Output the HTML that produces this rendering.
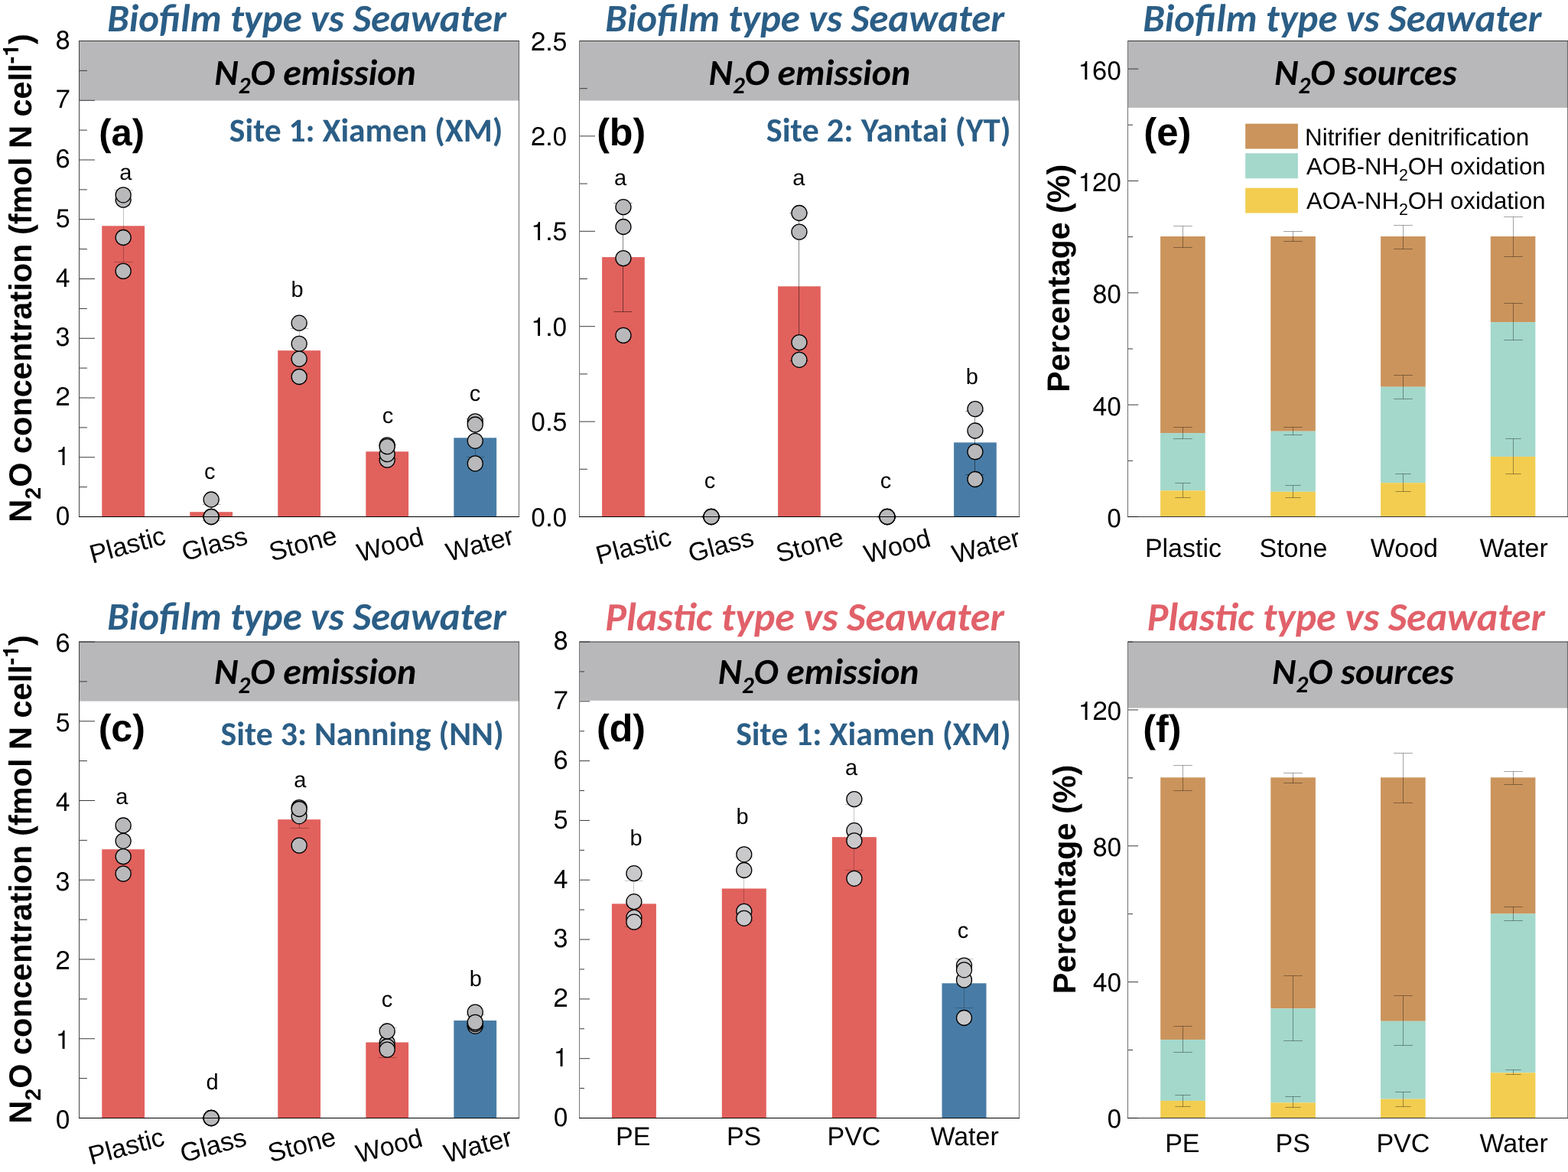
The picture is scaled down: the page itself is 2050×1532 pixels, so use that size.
<!DOCTYPE html>
<html><head><meta charset="utf-8"><title>N2O emission figure</title><style>html,body{margin:0;padding:0;background:#fff;overflow:hidden}svg{display:block}</style></head><body><svg width="2050" height="1532" viewBox="0 0 2050 1532" style="text-rendering:geometricPrecision">
<rect width="100%" height="100%" fill="#fff"/>
<rect x="103.50" y="53.50" width="575.00" height="78.00" fill="#B8B8BA"/>
<rect x="757.50" y="53.50" width="575.00" height="78.00" fill="#B8B8BA"/>
<rect x="103.50" y="839.00" width="575.00" height="77.60" fill="#B8B8BA"/>
<rect x="757.50" y="839.00" width="575.00" height="76.80" fill="#B8B8BA"/>
<rect x="1474.50" y="53.50" width="575.00" height="87.30" fill="#B8B8BA"/>
<rect x="1474.50" y="839.00" width="575.00" height="86.50" fill="#B8B8BA"/>
<rect x="133.25" y="295.30" width="55.80" height="380.20" fill="#E1615D"/>
<path d="M161.50 248.50V342.50M149.50 248.50H173.50M149.50 342.50H173.50" stroke="#000" stroke-opacity="0.25" stroke-width="1" fill="none"/>
<circle cx="161.15" cy="261.10" r="10.0" fill="#B9B9BB" stroke="#000" stroke-width="1.3"/>
<circle cx="161.15" cy="254.80" r="10.0" fill="#B9B9BB" stroke="#000" stroke-width="1.3"/>
<circle cx="161.15" cy="310.50" r="10.0" fill="#B9B9BB" stroke="#000" stroke-width="1.3"/>
<circle cx="161.15" cy="354.40" r="10.0" fill="#B9B9BB" stroke="#000" stroke-width="1.3"/>
<rect x="248.25" y="669.20" width="55.80" height="6.30" fill="#E1615D"/>
<path d="M276.50 659.50V680.50M264.50 659.50H288.50M264.50 680.50H288.50" stroke="#000" stroke-opacity="0.25" stroke-width="1" fill="none"/>
<circle cx="276.15" cy="653.00" r="10.0" fill="#B9B9BB" stroke="#000" stroke-width="1.3"/>
<circle cx="276.15" cy="675.50" r="10.0" fill="#B9B9BB" stroke="#000" stroke-width="1.3"/>
<circle cx="276.15" cy="675.50" r="10.0" fill="#B9B9BB" stroke="#000" stroke-width="1.3"/>
<circle cx="276.15" cy="675.50" r="10.0" fill="#B9B9BB" stroke="#000" stroke-width="1.3"/>
<rect x="363.25" y="458.20" width="55.80" height="217.30" fill="#E1615D"/>
<path d="M391.50 429.50V488.50M379.50 429.50H403.50M379.50 488.50H403.50" stroke="#000" stroke-opacity="0.25" stroke-width="1" fill="none"/>
<circle cx="391.15" cy="422.20" r="10.0" fill="#B9B9BB" stroke="#000" stroke-width="1.3"/>
<circle cx="391.15" cy="449.30" r="10.0" fill="#B9B9BB" stroke="#000" stroke-width="1.3"/>
<circle cx="391.15" cy="469.20" r="10.0" fill="#B9B9BB" stroke="#000" stroke-width="1.3"/>
<circle cx="391.15" cy="492.50" r="10.0" fill="#B9B9BB" stroke="#000" stroke-width="1.3"/>
<rect x="478.30" y="590.30" width="55.80" height="85.20" fill="#E1615D"/>
<path d="M506.50 581.50V599.50M494.50 581.50H518.50M494.50 599.50H518.50" stroke="#000" stroke-opacity="0.25" stroke-width="1" fill="none"/>
<circle cx="506.20" cy="581.90" r="10.0" fill="#B9B9BB" stroke="#000" stroke-width="1.3"/>
<circle cx="506.20" cy="601.20" r="10.0" fill="#B9B9BB" stroke="#000" stroke-width="1.3"/>
<circle cx="506.20" cy="593.60" r="10.0" fill="#B9B9BB" stroke="#000" stroke-width="1.3"/>
<circle cx="506.20" cy="583.70" r="10.0" fill="#B9B9BB" stroke="#000" stroke-width="1.3"/>
<rect x="593.35" y="572.30" width="55.80" height="103.20" fill="#487CA6"/>
<path d="M621.50 547.50V597.50M609.50 547.50H633.50M609.50 597.50H633.50" stroke="#000" stroke-opacity="0.25" stroke-width="1" fill="none"/>
<circle cx="621.25" cy="550.90" r="10.0" fill="#B9B9BB" stroke="#000" stroke-width="1.3"/>
<circle cx="621.25" cy="555.00" r="10.0" fill="#B9B9BB" stroke="#000" stroke-width="1.3"/>
<circle cx="621.25" cy="576.30" r="10.0" fill="#B9B9BB" stroke="#000" stroke-width="1.3"/>
<circle cx="621.25" cy="605.90" r="10.0" fill="#B9B9BB" stroke="#000" stroke-width="1.3"/>
<rect x="787.10" y="336.10" width="55.70" height="339.40" fill="#E1615D"/>
<path d="M814.50 265.50V407.50M802.50 265.50H826.50M802.50 407.50H826.50" stroke="#000" stroke-opacity="0.47" stroke-width="1" fill="none"/>
<circle cx="814.95" cy="270.70" r="10.0" fill="#B9B9BB" stroke="#000" stroke-width="1.3"/>
<circle cx="814.95" cy="296.50" r="10.0" fill="#B9B9BB" stroke="#000" stroke-width="1.3"/>
<circle cx="814.95" cy="337.60" r="10.0" fill="#B9B9BB" stroke="#000" stroke-width="1.3"/>
<circle cx="814.95" cy="438.40" r="10.0" fill="#B9B9BB" stroke="#000" stroke-width="1.3"/>
<path d="M929.50 674.50V676.50M917.50 674.50H941.50M917.50 676.50H941.50" stroke="#000" stroke-opacity="0.47" stroke-width="1" fill="none"/>
<circle cx="929.95" cy="675.50" r="10.0" fill="#B9B9BB" stroke="#000" stroke-width="1.3"/>
<circle cx="929.95" cy="675.50" r="10.0" fill="#B9B9BB" stroke="#000" stroke-width="1.3"/>
<circle cx="929.95" cy="675.50" r="10.0" fill="#B9B9BB" stroke="#000" stroke-width="1.3"/>
<circle cx="929.95" cy="675.50" r="10.0" fill="#B9B9BB" stroke="#000" stroke-width="1.3"/>
<rect x="1017.10" y="374.30" width="55.70" height="301.20" fill="#E1615D"/>
<path d="M1044.50 278.50V471.50M1032.50 278.50H1056.50M1032.50 471.50H1056.50" stroke="#000" stroke-opacity="0.47" stroke-width="1" fill="none"/>
<circle cx="1044.95" cy="278.50" r="10.0" fill="#B9B9BB" stroke="#000" stroke-width="1.3"/>
<circle cx="1044.95" cy="303.10" r="10.0" fill="#B9B9BB" stroke="#000" stroke-width="1.3"/>
<circle cx="1044.95" cy="447.60" r="10.0" fill="#B9B9BB" stroke="#000" stroke-width="1.3"/>
<circle cx="1044.95" cy="470.30" r="10.0" fill="#B9B9BB" stroke="#000" stroke-width="1.3"/>
<path d="M1159.50 674.50V676.50M1147.50 674.50H1171.50M1147.50 676.50H1171.50" stroke="#000" stroke-opacity="0.47" stroke-width="1" fill="none"/>
<circle cx="1159.95" cy="675.50" r="10.0" fill="#B9B9BB" stroke="#000" stroke-width="1.3"/>
<circle cx="1159.95" cy="675.50" r="10.0" fill="#B9B9BB" stroke="#000" stroke-width="1.3"/>
<circle cx="1159.95" cy="675.50" r="10.0" fill="#B9B9BB" stroke="#000" stroke-width="1.3"/>
<circle cx="1159.95" cy="675.50" r="10.0" fill="#B9B9BB" stroke="#000" stroke-width="1.3"/>
<rect x="1247.10" y="578.40" width="55.70" height="97.10" fill="#487CA6"/>
<path d="M1274.50 537.50V620.50M1262.50 537.50H1286.50M1262.50 620.50H1286.50" stroke="#000" stroke-opacity="0.47" stroke-width="1" fill="none"/>
<circle cx="1274.95" cy="534.60" r="10.0" fill="#B9B9BB" stroke="#000" stroke-width="1.3"/>
<circle cx="1274.95" cy="563.00" r="10.0" fill="#B9B9BB" stroke="#000" stroke-width="1.3"/>
<circle cx="1274.95" cy="590.60" r="10.0" fill="#B9B9BB" stroke="#000" stroke-width="1.3"/>
<circle cx="1274.95" cy="626.50" r="10.0" fill="#B9B9BB" stroke="#000" stroke-width="1.3"/>
<rect x="133.25" y="1110.20" width="55.80" height="351.30" fill="#E1615D"/>
<path d="M161.50 1083.50V1137.50M149.50 1083.50H173.50M149.50 1137.50H173.50" stroke="#000" stroke-opacity="0.27" stroke-width="1" fill="none"/>
<circle cx="161.15" cy="1079.00" r="10.0" fill="#B9B9BB" stroke="#000" stroke-width="1.3"/>
<circle cx="161.15" cy="1099.30" r="10.0" fill="#B9B9BB" stroke="#000" stroke-width="1.3"/>
<circle cx="161.15" cy="1119.60" r="10.0" fill="#B9B9BB" stroke="#000" stroke-width="1.3"/>
<circle cx="161.15" cy="1142.10" r="10.0" fill="#B9B9BB" stroke="#000" stroke-width="1.3"/>
<path d="M276.50 1460.50V1462.50M264.50 1460.50H288.50M264.50 1462.50H288.50" stroke="#000" stroke-opacity="0.27" stroke-width="1" fill="none"/>
<circle cx="276.15" cy="1461.50" r="10.0" fill="#B9B9BB" stroke="#000" stroke-width="1.3"/>
<circle cx="276.15" cy="1461.50" r="10.0" fill="#B9B9BB" stroke="#000" stroke-width="1.3"/>
<circle cx="276.15" cy="1461.50" r="10.0" fill="#B9B9BB" stroke="#000" stroke-width="1.3"/>
<circle cx="276.15" cy="1461.50" r="10.0" fill="#B9B9BB" stroke="#000" stroke-width="1.3"/>
<rect x="363.25" y="1071.20" width="55.80" height="390.30" fill="#E1615D"/>
<path d="M391.50 1061.50V1082.50M379.50 1061.50H403.50M379.50 1082.50H403.50" stroke="#000" stroke-opacity="0.27" stroke-width="1" fill="none"/>
<circle cx="391.15" cy="1066.80" r="10.0" fill="#B9B9BB" stroke="#000" stroke-width="1.3"/>
<circle cx="391.15" cy="1055.60" r="10.0" fill="#B9B9BB" stroke="#000" stroke-width="1.3"/>
<circle cx="391.15" cy="1057.50" r="10.0" fill="#B9B9BB" stroke="#000" stroke-width="1.3"/>
<circle cx="391.15" cy="1105.10" r="10.0" fill="#B9B9BB" stroke="#000" stroke-width="1.3"/>
<rect x="478.30" y="1362.50" width="55.80" height="99.00" fill="#E1615D"/>
<path d="M506.50 1343.50V1382.50M494.50 1343.50H518.50M494.50 1382.50H518.50" stroke="#000" stroke-opacity="0.27" stroke-width="1" fill="none"/>
<circle cx="506.20" cy="1363.00" r="10.0" fill="#B9B9BB" stroke="#000" stroke-width="1.3"/>
<circle cx="506.20" cy="1368.00" r="10.0" fill="#B9B9BB" stroke="#000" stroke-width="1.3"/>
<circle cx="506.20" cy="1348.00" r="10.0" fill="#B9B9BB" stroke="#000" stroke-width="1.3"/>
<circle cx="506.20" cy="1372.10" r="10.0" fill="#B9B9BB" stroke="#000" stroke-width="1.3"/>
<rect x="593.35" y="1334.00" width="55.80" height="127.50" fill="#487CA6"/>
<path d="M621.50 1326.50V1341.50M609.50 1326.50H633.50M609.50 1341.50H633.50" stroke="#000" stroke-opacity="0.27" stroke-width="1" fill="none"/>
<circle cx="621.25" cy="1341.30" r="10.0" fill="#B9B9BB" stroke="#000" stroke-width="1.3"/>
<circle cx="621.25" cy="1338.50" r="10.0" fill="#B9B9BB" stroke="#000" stroke-width="1.3"/>
<circle cx="621.25" cy="1323.10" r="10.0" fill="#B9B9BB" stroke="#000" stroke-width="1.3"/>
<circle cx="621.25" cy="1336.40" r="10.0" fill="#B9B9BB" stroke="#000" stroke-width="1.3"/>
<rect x="799.90" y="1181.40" width="58.00" height="280.10" fill="#E1615D"/>
<path d="M828.50 1151.50V1211.50M816.50 1151.50H840.50M816.50 1211.50H840.50" stroke="#000" stroke-opacity="0.22" stroke-width="1" fill="none"/>
<circle cx="828.90" cy="1141.70" r="10.0" fill="#C9C9CB" stroke="#000" stroke-width="1.3"/>
<circle cx="828.90" cy="1178.70" r="10.0" fill="#C9C9CB" stroke="#000" stroke-width="1.3"/>
<circle cx="828.90" cy="1199.40" r="10.0" fill="#C9C9CB" stroke="#000" stroke-width="1.3"/>
<circle cx="828.90" cy="1205.20" r="10.0" fill="#C9C9CB" stroke="#000" stroke-width="1.3"/>
<rect x="943.80" y="1161.50" width="58.00" height="300.00" fill="#E1615D"/>
<path d="M972.50 1120.50V1203.50M960.50 1120.50H984.50M960.50 1203.50H984.50" stroke="#000" stroke-opacity="0.22" stroke-width="1" fill="none"/>
<circle cx="972.80" cy="1116.80" r="10.0" fill="#C9C9CB" stroke="#000" stroke-width="1.3"/>
<circle cx="972.80" cy="1137.50" r="10.0" fill="#C9C9CB" stroke="#000" stroke-width="1.3"/>
<circle cx="972.80" cy="1191.30" r="10.0" fill="#C9C9CB" stroke="#000" stroke-width="1.3"/>
<circle cx="972.80" cy="1200.30" r="10.0" fill="#C9C9CB" stroke="#000" stroke-width="1.3"/>
<rect x="1087.85" y="1094.20" width="58.00" height="367.30" fill="#E1615D"/>
<path d="M1116.50 1051.50V1137.50M1104.50 1051.50H1128.50M1104.50 1137.50H1128.50" stroke="#000" stroke-opacity="0.22" stroke-width="1" fill="none"/>
<circle cx="1116.85" cy="1044.60" r="10.0" fill="#C9C9CB" stroke="#000" stroke-width="1.3"/>
<circle cx="1116.85" cy="1085.70" r="10.0" fill="#C9C9CB" stroke="#000" stroke-width="1.3"/>
<circle cx="1116.85" cy="1098.90" r="10.0" fill="#C9C9CB" stroke="#000" stroke-width="1.3"/>
<circle cx="1116.85" cy="1148.30" r="10.0" fill="#C9C9CB" stroke="#000" stroke-width="1.3"/>
<rect x="1231.50" y="1285.30" width="58.00" height="176.20" fill="#487CA6"/>
<path d="M1260.50 1253.50V1317.50M1248.50 1253.50H1272.50M1248.50 1317.50H1272.50" stroke="#000" stroke-opacity="0.22" stroke-width="1" fill="none"/>
<circle cx="1260.50" cy="1262.10" r="10.0" fill="#C9C9CB" stroke="#000" stroke-width="1.3"/>
<circle cx="1260.50" cy="1280.90" r="10.0" fill="#C9C9CB" stroke="#000" stroke-width="1.3"/>
<circle cx="1260.50" cy="1267.80" r="10.0" fill="#C9C9CB" stroke="#000" stroke-width="1.3"/>
<circle cx="1260.50" cy="1330.50" r="10.0" fill="#C9C9CB" stroke="#000" stroke-width="1.3"/>
<rect x="1517.10" y="309.00" width="58.60" height="257.10" fill="#CB945C"/>
<rect x="1517.10" y="566.10" width="58.60" height="75.20" fill="#A3D8CB"/>
<rect x="1517.10" y="641.30" width="58.60" height="34.20" fill="#F2CD50"/>
<path d="M1546.50 295.50V323.50M1534.15 295.50H1558.85M1534.15 323.50H1558.85" stroke="#000" stroke-opacity="0.36" stroke-width="1" fill="none"/>
<path d="M1546.50 558.50V573.50M1534.15 558.50H1558.85M1534.15 573.50H1558.85" stroke="#000" stroke-opacity="0.36" stroke-width="1" fill="none"/>
<path d="M1546.50 631.50V650.50M1536.30 631.50H1556.70M1536.30 650.50H1556.70" stroke="#000" stroke-opacity="0.36" stroke-width="1" fill="none"/>
<rect x="1661.25" y="309.00" width="58.60" height="254.70" fill="#CB945C"/>
<rect x="1661.25" y="563.70" width="58.60" height="79.10" fill="#A3D8CB"/>
<rect x="1661.25" y="642.80" width="58.60" height="32.70" fill="#F2CD50"/>
<path d="M1690.50 302.50V315.50M1678.15 302.50H1702.85M1678.15 315.50H1702.85" stroke="#000" stroke-opacity="0.36" stroke-width="1" fill="none"/>
<path d="M1690.50 558.50V568.50M1678.15 558.50H1702.85M1678.15 568.50H1702.85" stroke="#000" stroke-opacity="0.36" stroke-width="1" fill="none"/>
<path d="M1690.50 634.50V650.50M1680.30 634.50H1700.70M1680.30 650.50H1700.70" stroke="#000" stroke-opacity="0.36" stroke-width="1" fill="none"/>
<rect x="1805.10" y="309.00" width="58.60" height="196.70" fill="#CB945C"/>
<rect x="1805.10" y="505.70" width="58.60" height="125.50" fill="#A3D8CB"/>
<rect x="1805.10" y="631.20" width="58.60" height="44.30" fill="#F2CD50"/>
<path d="M1834.50 294.50V325.50M1822.15 294.50H1846.85M1822.15 325.50H1846.85" stroke="#000" stroke-opacity="0.36" stroke-width="1" fill="none"/>
<path d="M1834.50 490.50V521.50M1822.15 490.50H1846.85M1822.15 521.50H1846.85" stroke="#000" stroke-opacity="0.36" stroke-width="1" fill="none"/>
<path d="M1834.50 619.50V642.50M1824.30 619.50H1844.70M1824.30 642.50H1844.70" stroke="#000" stroke-opacity="0.36" stroke-width="1" fill="none"/>
<rect x="1948.75" y="309.00" width="58.60" height="112.10" fill="#CB945C"/>
<rect x="1948.75" y="421.10" width="58.60" height="175.80" fill="#A3D8CB"/>
<rect x="1948.75" y="596.90" width="58.60" height="78.60" fill="#F2CD50"/>
<path d="M1978.50 283.50V335.50M1966.15 283.50H1990.85M1966.15 335.50H1990.85" stroke="#000" stroke-opacity="0.36" stroke-width="1" fill="none"/>
<path d="M1978.50 396.50V444.50M1966.15 396.50H1990.85M1966.15 444.50H1990.85" stroke="#000" stroke-opacity="0.36" stroke-width="1" fill="none"/>
<path d="M1978.50 573.50V619.50M1968.30 573.50H1988.70M1968.30 619.50H1988.70" stroke="#000" stroke-opacity="0.36" stroke-width="1" fill="none"/>
<rect x="1517.20" y="1016.30" width="58.60" height="342.80" fill="#CB945C"/>
<rect x="1517.20" y="1359.10" width="58.60" height="79.80" fill="#A3D8CB"/>
<rect x="1517.20" y="1438.90" width="58.60" height="22.60" fill="#F2CD50"/>
<path d="M1546.50 1000.50V1033.50M1534.15 1000.50H1558.85M1534.15 1033.50H1558.85" stroke="#000" stroke-opacity="0.36" stroke-width="1" fill="none"/>
<path d="M1546.50 1341.50V1375.50M1534.15 1341.50H1558.85M1534.15 1375.50H1558.85" stroke="#000" stroke-opacity="0.36" stroke-width="1" fill="none"/>
<path d="M1546.50 1431.50V1446.50M1536.30 1431.50H1556.70M1536.30 1446.50H1556.70" stroke="#000" stroke-opacity="0.36" stroke-width="1" fill="none"/>
<rect x="1661.30" y="1016.30" width="58.60" height="302.00" fill="#CB945C"/>
<rect x="1661.30" y="1318.30" width="58.60" height="123.10" fill="#A3D8CB"/>
<rect x="1661.30" y="1441.40" width="58.60" height="20.10" fill="#F2CD50"/>
<path d="M1690.50 1010.50V1023.50M1678.15 1010.50H1702.85M1678.15 1023.50H1702.85" stroke="#000" stroke-opacity="0.36" stroke-width="1" fill="none"/>
<path d="M1690.50 1275.50V1360.50M1678.15 1275.50H1702.85M1678.15 1360.50H1702.85" stroke="#000" stroke-opacity="0.36" stroke-width="1" fill="none"/>
<path d="M1690.50 1433.50V1447.50M1680.30 1433.50H1700.70M1680.30 1447.50H1700.70" stroke="#000" stroke-opacity="0.36" stroke-width="1" fill="none"/>
<rect x="1805.05" y="1016.30" width="58.60" height="318.50" fill="#CB945C"/>
<rect x="1805.05" y="1334.80" width="58.60" height="101.80" fill="#A3D8CB"/>
<rect x="1805.05" y="1436.60" width="58.60" height="24.90" fill="#F2CD50"/>
<path d="M1834.50 984.50V1049.50M1822.15 984.50H1846.85M1822.15 1049.50H1846.85" stroke="#000" stroke-opacity="0.36" stroke-width="1" fill="none"/>
<path d="M1834.50 1301.50V1366.50M1822.15 1301.50H1846.85M1822.15 1366.50H1846.85" stroke="#000" stroke-opacity="0.36" stroke-width="1" fill="none"/>
<path d="M1834.50 1427.50V1446.50M1824.30 1427.50H1844.70M1824.30 1446.50H1844.70" stroke="#000" stroke-opacity="0.36" stroke-width="1" fill="none"/>
<rect x="1948.80" y="1016.30" width="58.60" height="178.20" fill="#CB945C"/>
<rect x="1948.80" y="1194.50" width="58.60" height="207.80" fill="#A3D8CB"/>
<rect x="1948.80" y="1402.30" width="58.60" height="59.20" fill="#F2CD50"/>
<path d="M1978.50 1008.50V1025.50M1966.15 1008.50H1990.85M1966.15 1025.50H1990.85" stroke="#000" stroke-opacity="0.36" stroke-width="1" fill="none"/>
<path d="M1978.50 1185.50V1203.50M1966.15 1185.50H1990.85M1966.15 1203.50H1990.85" stroke="#000" stroke-opacity="0.36" stroke-width="1" fill="none"/>
<path d="M1978.50 1398.50V1404.50M1968.30 1398.50H1988.70M1968.30 1404.50H1988.70" stroke="#000" stroke-opacity="0.36" stroke-width="1" fill="none"/>
<rect x="1628.20" y="161.70" width="68.70" height="32.80" fill="#CB945C"/>
<rect x="1628.20" y="200.30" width="68.70" height="32.90" fill="#A3D8CB"/>
<rect x="1628.20" y="245.70" width="68.70" height="32.80" fill="#F2CD50"/>
<path d="M103.50 675.50H124.00M103.50 597.75H124.00M103.50 520.00H124.00M103.50 442.25H124.00M103.50 364.50H124.00M103.50 286.75H124.00M103.50 209.00H124.00M103.50 131.25H124.00M103.50 53.50H124.00M103.50 636.62H113.90M103.50 558.88H113.90M103.50 481.12H113.90M103.50 403.38H113.90M103.50 325.62H113.90M103.50 247.88H113.90M103.50 170.12H113.90M103.50 92.38H113.90" stroke="#3a3a3a" stroke-width="1" fill="none"/>
<line x1="678.50" y1="53.50" x2="678.50" y2="675.50" stroke="#000" stroke-opacity="0.5" stroke-width="1.2"/>
<line x1="103.50" y1="53.50" x2="679.00" y2="53.50" stroke="#333" stroke-width="1.1"/>
<line x1="103.50" y1="53.00" x2="103.50" y2="675.50" stroke="#464646" stroke-width="1"/>
<line x1="103.00" y1="675.50" x2="679.00" y2="675.50" stroke="#000" stroke-width="1"/>
<path d="M757.50 675.50H778.00M757.50 551.10H778.00M757.50 426.70H778.00M757.50 302.30H778.00M757.50 177.90H778.00M757.50 53.50H778.00M757.50 613.30H767.90M757.50 488.90H767.90M757.50 364.50H767.90M757.50 240.10H767.90M757.50 115.70H767.90" stroke="#3a3a3a" stroke-width="1" fill="none"/>
<line x1="1332.50" y1="53.50" x2="1332.50" y2="675.50" stroke="#000" stroke-opacity="0.5" stroke-width="1.2"/>
<line x1="757.50" y1="53.50" x2="1333.00" y2="53.50" stroke="#333" stroke-width="1.1"/>
<line x1="757.50" y1="53.00" x2="757.50" y2="675.50" stroke="#777" stroke-width="1"/>
<line x1="757.00" y1="675.50" x2="1333.00" y2="675.50" stroke="#000" stroke-width="1"/>
<path d="M103.50 1461.50H124.00M103.50 1357.75H124.00M103.50 1254.00H124.00M103.50 1150.25H124.00M103.50 1046.50H124.00M103.50 942.75H124.00M103.50 839.00H124.00M103.50 1409.62H113.90M103.50 1305.88H113.90M103.50 1202.12H113.90M103.50 1098.38H113.90M103.50 994.62H113.90M103.50 890.88H113.90" stroke="#3a3a3a" stroke-width="1" fill="none"/>
<line x1="678.50" y1="839.00" x2="678.50" y2="1461.50" stroke="#000" stroke-opacity="0.5" stroke-width="1.2"/>
<line x1="103.50" y1="839.00" x2="679.00" y2="839.00" stroke="#333" stroke-width="1.1"/>
<line x1="103.50" y1="838.50" x2="103.50" y2="1461.50" stroke="#464646" stroke-width="1"/>
<line x1="103.00" y1="1461.50" x2="679.00" y2="1461.50" stroke="#000" stroke-width="1"/>
<path d="M757.50 1461.50H771.00M757.50 1383.69H771.00M757.50 1305.88H771.00M757.50 1228.06H771.00M757.50 1150.25H771.00M757.50 1072.44H771.00M757.50 994.62H771.00M757.50 916.81H771.00M757.50 839.00H771.00M757.50 1422.59H764.00M757.50 1344.78H764.00M757.50 1266.97H764.00M757.50 1189.16H764.00M757.50 1111.34H764.00M757.50 1033.53H764.00M757.50 955.72H764.00M757.50 877.91H764.00" stroke="#3a3a3a" stroke-width="1" fill="none"/>
<line x1="1332.50" y1="839.00" x2="1332.50" y2="1461.50" stroke="#000" stroke-opacity="0.5" stroke-width="1.2"/>
<line x1="757.50" y1="839.00" x2="1333.00" y2="839.00" stroke="#333" stroke-width="1.1"/>
<line x1="757.50" y1="838.50" x2="757.50" y2="1461.50" stroke="#777" stroke-width="1"/>
<line x1="757.00" y1="1461.50" x2="1333.00" y2="1461.50" stroke="#000" stroke-width="1"/>
<path d="M1474.50 675.50H1488.30M1474.50 529.15H1488.30M1474.50 382.79H1488.30M1474.50 236.44H1488.30M1474.50 90.09H1488.30M1474.50 602.32H1481.10M1474.50 455.97H1481.10M1474.50 309.62H1481.10M1474.50 163.26H1481.10" stroke="#3a3a3a" stroke-width="1" fill="none"/>
<line x1="2049.50" y1="53.50" x2="2049.50" y2="675.50" stroke="#000" stroke-opacity="0.5" stroke-width="1.2"/>
<line x1="1474.50" y1="53.50" x2="2050.00" y2="53.50" stroke="#333" stroke-width="1.1"/>
<line x1="1474.50" y1="53.00" x2="1474.50" y2="675.50" stroke="#707070" stroke-width="1"/>
<line x1="1474.00" y1="675.50" x2="2050.00" y2="675.50" stroke="#333" stroke-width="1"/>
<line x1="1474.00" y1="675.50" x2="1488.30" y2="675.50" stroke="#111" stroke-width="1"/>
<path d="M1474.50 1461.50H1488.10M1474.50 1283.64H1488.10M1474.50 1105.79H1488.10M1474.50 927.93H1488.10M1474.50 1372.57H1481.10M1474.50 1194.71H1481.10M1474.50 1016.86H1481.10M1474.50 839.00H1481.10" stroke="#3a3a3a" stroke-width="1" fill="none"/>
<line x1="2049.50" y1="839.00" x2="2049.50" y2="1461.50" stroke="#000" stroke-opacity="0.5" stroke-width="1.2"/>
<line x1="1474.50" y1="839.00" x2="2050.00" y2="839.00" stroke="#333" stroke-width="1.1"/>
<line x1="1474.50" y1="838.50" x2="1474.50" y2="1461.50" stroke="#707070" stroke-width="1"/>
<line x1="1474.00" y1="1461.50" x2="2050.00" y2="1461.50" stroke="#333" stroke-width="1"/>
<line x1="1474.00" y1="1461.50" x2="1488.10" y2="1461.50" stroke="#111" stroke-width="1"/>
<text x="140.26" y="41.00" text-anchor="start" fill="#2B5E86" style="font-family:Carlito, Calibri, 'Liberation Sans', sans-serif;font-size:50.88px;font-weight:bold;font-style:italic" textLength="521.56" lengthAdjust="spacingAndGlyphs"><tspan>Biofilm type vs Seawater</tspan></text>
<text x="791.26" y="41.00" text-anchor="start" fill="#2B5E86" style="font-family:Carlito, Calibri, 'Liberation Sans', sans-serif;font-size:50.92px;font-weight:bold;font-style:italic" textLength="521.96" lengthAdjust="spacingAndGlyphs"><tspan>Biofilm type vs Seawater</tspan></text>
<text x="1494.26" y="41.00" text-anchor="start" fill="#2B5E86" style="font-family:Carlito, Calibri, 'Liberation Sans', sans-serif;font-size:50.84px;font-weight:bold;font-style:italic" textLength="521.06" lengthAdjust="spacingAndGlyphs"><tspan>Biofilm type vs Seawater</tspan></text>
<text x="140.26" y="822.70" text-anchor="start" fill="#2B5E86" style="font-family:Carlito, Calibri, 'Liberation Sans', sans-serif;font-size:50.88px;font-weight:bold;font-style:italic" textLength="521.56" lengthAdjust="spacingAndGlyphs"><tspan>Biofilm type vs Seawater</tspan></text>
<text x="791.24" y="823.90" text-anchor="start" fill="#E1616A" style="font-family:Carlito, Calibri, 'Liberation Sans', sans-serif;font-size:52.17px;font-weight:bold;font-style:italic" textLength="521.58" lengthAdjust="spacingAndGlyphs"><tspan>Plastic type vs Seawater</tspan></text>
<text x="1499.84" y="823.70" text-anchor="start" fill="#E1616A" style="font-family:Carlito, Calibri, 'Liberation Sans', sans-serif;font-size:52.00px;font-weight:bold;font-style:italic" textLength="519.88" lengthAdjust="spacingAndGlyphs"><tspan>Plastic type vs Seawater</tspan></text>
<text x="280.26" y="110.60" text-anchor="start" fill="#000" style="font-family:Carlito, Calibri, 'Liberation Sans', sans-serif;font-size:47.83px;font-weight:bold;font-style:italic" textLength="263.52" lengthAdjust="spacingAndGlyphs"><tspan>N</tspan><tspan dy="11.34" font-size="31.09">2</tspan><tspan dy="-11.34">O emission</tspan></text>
<text x="926.46" y="110.70" text-anchor="start" fill="#000" style="font-family:Carlito, Calibri, 'Liberation Sans', sans-serif;font-size:47.87px;font-weight:bold;font-style:italic" textLength="263.72" lengthAdjust="spacingAndGlyphs"><tspan>N</tspan><tspan dy="11.35" font-size="31.12">2</tspan><tspan dy="-11.35">O emission</tspan></text>
<text x="280.06" y="894.30" text-anchor="start" fill="#000" style="font-family:Carlito, Calibri, 'Liberation Sans', sans-serif;font-size:47.96px;font-weight:bold;font-style:italic" textLength="264.23" lengthAdjust="spacingAndGlyphs"><tspan>N</tspan><tspan dy="11.37" font-size="31.17">2</tspan><tspan dy="-11.37">O emission</tspan></text>
<text x="938.66" y="894.30" text-anchor="start" fill="#000" style="font-family:Carlito, Calibri, 'Liberation Sans', sans-serif;font-size:47.70px;font-weight:bold;font-style:italic" textLength="262.81" lengthAdjust="spacingAndGlyphs"><tspan>N</tspan><tspan dy="11.31" font-size="31.01">2</tspan><tspan dy="-11.31">O emission</tspan></text>
<text x="1666.06" y="110.90" text-anchor="start" fill="#000" style="font-family:Carlito, Calibri, 'Liberation Sans', sans-serif;font-size:47.98px;font-weight:bold;font-style:italic" textLength="238.50" lengthAdjust="spacingAndGlyphs"><tspan>N</tspan><tspan dy="11.37" font-size="31.19">2</tspan><tspan dy="-11.37">O sources</tspan></text>
<text x="1663.06" y="894.00" text-anchor="start" fill="#000" style="font-family:Carlito, Calibri, 'Liberation Sans', sans-serif;font-size:47.86px;font-weight:bold;font-style:italic" textLength="237.90" lengthAdjust="spacingAndGlyphs"><tspan>N</tspan><tspan dy="11.34" font-size="31.11">2</tspan><tspan dy="-11.34">O sources</tspan></text>
<text x="299.86" y="184.50" text-anchor="start" fill="#2B5E86" style="font-family:Carlito, Calibri, 'Liberation Sans', sans-serif;font-size:43.55px;font-weight:bold;font-style:normal" textLength="357.47" lengthAdjust="spacingAndGlyphs"><tspan>Site 1: Xiamen (XM)</tspan></text>
<text x="1001.74" y="184.70" text-anchor="start" fill="#2B5E86" style="font-family:Carlito, Calibri, 'Liberation Sans', sans-serif;font-size:44.40px;font-weight:bold;font-style:normal" textLength="319.83" lengthAdjust="spacingAndGlyphs"><tspan>Site 2: Yantai (YT)</tspan></text>
<text x="288.56" y="974.40" text-anchor="start" fill="#2B5E86" style="font-family:Carlito, Calibri, 'Liberation Sans', sans-serif;font-size:43.84px;font-weight:bold;font-style:normal" textLength="370.02" lengthAdjust="spacingAndGlyphs"><tspan>Site 3: Nanning (NN)</tspan></text>
<text x="962.16" y="974.40" text-anchor="start" fill="#2B5E86" style="font-family:Carlito, Calibri, 'Liberation Sans', sans-serif;font-size:43.78px;font-weight:bold;font-style:normal" textLength="359.38" lengthAdjust="spacingAndGlyphs"><tspan>Site 1: Xiamen (XM)</tspan></text>
<text x="129.28" y="190.20" text-anchor="start" fill="#000" style="font-family:'Liberation Sans', Arial, Helvetica, sans-serif;font-size:48.98px;font-weight:bold;font-style:normal"><tspan>(a)</tspan></text>
<text x="780.13" y="190.00" text-anchor="start" fill="#000" style="font-family:'Liberation Sans', Arial, Helvetica, sans-serif;font-size:50.16px;font-weight:bold;font-style:normal"><tspan>(b)</tspan></text>
<text x="128.63" y="969.30" text-anchor="start" fill="#000" style="font-family:'Liberation Sans', Arial, Helvetica, sans-serif;font-size:50.21px;font-weight:bold;font-style:normal"><tspan>(c)</tspan></text>
<text x="780.03" y="969.30" text-anchor="start" fill="#000" style="font-family:'Liberation Sans', Arial, Helvetica, sans-serif;font-size:50.16px;font-weight:bold;font-style:normal"><tspan>(d)</tspan></text>
<text x="1495.20" y="189.90" text-anchor="start" fill="#000" style="font-family:'Liberation Sans', Arial, Helvetica, sans-serif;font-size:50.91px;font-weight:bold;font-style:normal"><tspan>(e)</tspan></text>
<text x="1494.33" y="969.90" text-anchor="start" fill="#000" style="font-family:'Liberation Sans', Arial, Helvetica, sans-serif;font-size:50.35px;font-weight:bold;font-style:normal"><tspan>(f)</tspan></text>
<text x="1705.97" y="189.50" text-anchor="start" fill="#000" style="font-family:'Liberation Sans', Arial, Helvetica, sans-serif;font-size:31.41px;font-weight:normal;font-style:normal"><tspan>Nitrifier denitrification</tspan></text>
<text x="1708.00" y="228.40" text-anchor="start" fill="#000" style="font-family:'Liberation Sans', Arial, Helvetica, sans-serif;font-size:31.09px;font-weight:normal;font-style:normal"><tspan>AOB-NH</tspan><tspan dy="8.08" font-size="21.45">2</tspan><tspan dy="-8.08">OH oxidation</tspan></text>
<text x="1708.00" y="272.90" text-anchor="start" fill="#000" style="font-family:'Liberation Sans', Arial, Helvetica, sans-serif;font-size:31.09px;font-weight:normal;font-style:normal"><tspan>AOA-NH</tspan><tspan dy="8.08" font-size="21.45">2</tspan><tspan dy="-8.08">OH oxidation</tspan></text>
<text x="41.00" y="682.78" text-anchor="start" fill="#000" style="font-family:'Liberation Sans', Arial, Helvetica, sans-serif;font-size:41.52px;font-weight:bold;font-style:normal" transform="rotate(-90.000 41.00 682.78)"><tspan>N</tspan><tspan dy="12.04" font-size="28.65">2</tspan><tspan dy="-12.04">O concentration (fmol N cell</tspan><tspan dy="-17.02" font-size="28.24" font-family="'TeX Gyre Heros', 'Liberation Sans', Arial, sans-serif">-1</tspan><tspan dy="17.02">)</tspan></text>
<text x="41.00" y="1468.78" text-anchor="start" fill="#000" style="font-family:'Liberation Sans', Arial, Helvetica, sans-serif;font-size:41.52px;font-weight:bold;font-style:normal" transform="rotate(-90.000 41.00 1468.78)"><tspan>N</tspan><tspan dy="12.04" font-size="28.65">2</tspan><tspan dy="-12.04">O concentration (fmol N cell</tspan><tspan dy="-17.02" font-size="28.24" font-family="'TeX Gyre Heros', 'Liberation Sans', Arial, sans-serif">-1</tspan><tspan dy="17.02">)</tspan></text>
<text x="1398.30" y="512.76" text-anchor="start" fill="#000" style="font-family:'Liberation Sans', Arial, Helvetica, sans-serif;font-size:41.26px;font-weight:bold;font-style:normal" transform="rotate(-90.000 1398.30 512.76)"><tspan>Percentage (%)</tspan></text>
<text x="1405.70" y="1299.18" text-anchor="start" fill="#000" style="font-family:'Liberation Sans', Arial, Helvetica, sans-serif;font-size:41.48px;font-weight:bold;font-style:normal" transform="rotate(-90.000 1405.70 1299.18)"><tspan>Percentage (%)</tspan></text>
<text x="169.53" y="723.65" text-anchor="middle" fill="#000" style="font-family:'Liberation Sans', Arial, Helvetica, sans-serif;font-size:34.35px;font-weight:normal;font-style:normal" transform="rotate(-15.000 169.53 723.65)"><tspan>Plastic</tspan></text>
<text x="283.36" y="722.23" text-anchor="middle" fill="#000" style="font-family:'Liberation Sans', Arial, Helvetica, sans-serif;font-size:34.12px;font-weight:normal;font-style:normal" transform="rotate(-15.000 283.36 722.23)"><tspan>Glass</tspan></text>
<text x="398.99" y="722.03" text-anchor="middle" fill="#000" style="font-family:'Liberation Sans', Arial, Helvetica, sans-serif;font-size:34.52px;font-weight:normal;font-style:normal" transform="rotate(-15.000 398.99 722.03)"><tspan>Stone</tspan></text>
<text x="513.11" y="723.38" text-anchor="middle" fill="#000" style="font-family:'Liberation Sans', Arial, Helvetica, sans-serif;font-size:34.08px;font-weight:normal;font-style:normal" transform="rotate(-15.000 513.11 723.38)"><tspan>Wood</tspan></text>
<text x="630.17" y="722.48" text-anchor="middle" fill="#000" style="font-family:'Liberation Sans', Arial, Helvetica, sans-serif;font-size:34.12px;font-weight:normal;font-style:normal" transform="rotate(-15.000 630.17 722.48)"><tspan>Water</tspan></text>
<text x="831.31" y="725.12" text-anchor="middle" fill="#000" style="font-family:'Liberation Sans', Arial, Helvetica, sans-serif;font-size:34.07px;font-weight:normal;font-style:normal" transform="rotate(-15.000 831.31 725.12)"><tspan>Plastic</tspan></text>
<text x="945.50" y="724.10" text-anchor="middle" fill="#000" style="font-family:'Liberation Sans', Arial, Helvetica, sans-serif;font-size:34.00px;font-weight:normal;font-style:normal" transform="rotate(-15.000 945.50 724.10)"><tspan>Glass</tspan></text>
<text x="1061.47" y="723.97" text-anchor="middle" fill="#000" style="font-family:'Liberation Sans', Arial, Helvetica, sans-serif;font-size:34.28px;font-weight:normal;font-style:normal" transform="rotate(-15.000 1061.47 723.97)"><tspan>Stone</tspan></text>
<text x="1175.95" y="725.06" text-anchor="middle" fill="#000" style="font-family:'Liberation Sans', Arial, Helvetica, sans-serif;font-size:34.04px;font-weight:normal;font-style:normal" transform="rotate(-15.000 1175.95 725.06)"><tspan>Wood</tspan></text>
<text x="1292.11" y="725.02" text-anchor="middle" fill="#000" style="font-family:'Liberation Sans', Arial, Helvetica, sans-serif;font-size:34.42px;font-weight:normal;font-style:normal" transform="rotate(-15.000 1292.11 725.02)"><tspan>Water</tspan></text>
<text x="168.13" y="1509.75" text-anchor="middle" fill="#000" style="font-family:'Liberation Sans', Arial, Helvetica, sans-serif;font-size:34.35px;font-weight:normal;font-style:normal" transform="rotate(-15.000 168.13 1509.75)"><tspan>Plastic</tspan></text>
<text x="281.67" y="1508.30" text-anchor="middle" fill="#000" style="font-family:'Liberation Sans', Arial, Helvetica, sans-serif;font-size:34.36px;font-weight:normal;font-style:normal" transform="rotate(-15.000 281.67 1508.30)"><tspan>Glass</tspan></text>
<text x="397.49" y="1507.83" text-anchor="middle" fill="#000" style="font-family:'Liberation Sans', Arial, Helvetica, sans-serif;font-size:34.52px;font-weight:normal;font-style:normal" transform="rotate(-15.000 397.49 1507.83)"><tspan>Stone</tspan></text>
<text x="511.65" y="1509.16" text-anchor="middle" fill="#000" style="font-family:'Liberation Sans', Arial, Helvetica, sans-serif;font-size:34.04px;font-weight:normal;font-style:normal" transform="rotate(-15.000 511.65 1509.16)"><tspan>Wood</tspan></text>
<text x="627.87" y="1508.43" text-anchor="middle" fill="#000" style="font-family:'Liberation Sans', Arial, Helvetica, sans-serif;font-size:34.46px;font-weight:normal;font-style:normal" transform="rotate(-15.000 627.87 1508.43)"><tspan>Water</tspan></text>
<text x="827.75" y="1497.40" text-anchor="middle" fill="#000" style="font-family:'Liberation Sans', Arial, Helvetica, sans-serif;font-size:34.00px;font-weight:normal;font-style:normal"><tspan>PE</tspan></text>
<text x="972.60" y="1497.40" text-anchor="middle" fill="#000" style="font-family:'Liberation Sans', Arial, Helvetica, sans-serif;font-size:34.00px;font-weight:normal;font-style:normal"><tspan>PS</tspan></text>
<text x="1116.45" y="1497.40" text-anchor="middle" fill="#000" style="font-family:'Liberation Sans', Arial, Helvetica, sans-serif;font-size:34.00px;font-weight:normal;font-style:normal"><tspan>PVC</tspan></text>
<text x="1261.10" y="1497.40" text-anchor="middle" fill="#000" style="font-family:'Liberation Sans', Arial, Helvetica, sans-serif;font-size:34.00px;font-weight:normal;font-style:normal"><tspan>Water</tspan></text>
<text x="1546.95" y="728.10" text-anchor="middle" fill="#000" style="font-family:'Liberation Sans', Arial, Helvetica, sans-serif;font-size:34.00px;font-weight:normal;font-style:normal"><tspan>Plastic</tspan></text>
<text x="1690.90" y="728.10" text-anchor="middle" fill="#000" style="font-family:'Liberation Sans', Arial, Helvetica, sans-serif;font-size:34.00px;font-weight:normal;font-style:normal"><tspan>Stone</tspan></text>
<text x="1835.95" y="728.10" text-anchor="middle" fill="#000" style="font-family:'Liberation Sans', Arial, Helvetica, sans-serif;font-size:34.00px;font-weight:normal;font-style:normal"><tspan>Wood</tspan></text>
<text x="1979.15" y="728.10" text-anchor="middle" fill="#000" style="font-family:'Liberation Sans', Arial, Helvetica, sans-serif;font-size:34.00px;font-weight:normal;font-style:normal"><tspan>Water</tspan></text>
<text x="1545.85" y="1506.20" text-anchor="middle" fill="#000" style="font-family:'Liberation Sans', Arial, Helvetica, sans-serif;font-size:34.00px;font-weight:normal;font-style:normal"><tspan>PE</tspan></text>
<text x="1690.15" y="1506.20" text-anchor="middle" fill="#000" style="font-family:'Liberation Sans', Arial, Helvetica, sans-serif;font-size:34.00px;font-weight:normal;font-style:normal"><tspan>PS</tspan></text>
<text x="1834.35" y="1506.20" text-anchor="middle" fill="#000" style="font-family:'Liberation Sans', Arial, Helvetica, sans-serif;font-size:34.00px;font-weight:normal;font-style:normal"><tspan>PVC</tspan></text>
<text x="1979.15" y="1506.20" text-anchor="middle" fill="#000" style="font-family:'Liberation Sans', Arial, Helvetica, sans-serif;font-size:34.00px;font-weight:normal;font-style:normal"><tspan>Water</tspan></text>
<text x="91.60" y="685.50" text-anchor="end" fill="#000" style="font-family:'TeX Gyre Heros', 'Liberation Sans', Arial, sans-serif;font-size:34.00px;font-weight:normal;font-style:normal"><tspan>0</tspan></text>
<text x="91.60" y="607.75" text-anchor="end" fill="#000" style="font-family:'TeX Gyre Heros', 'Liberation Sans', Arial, sans-serif;font-size:34.00px;font-weight:normal;font-style:normal"><tspan>1</tspan></text>
<text x="91.60" y="530.00" text-anchor="end" fill="#000" style="font-family:'TeX Gyre Heros', 'Liberation Sans', Arial, sans-serif;font-size:34.00px;font-weight:normal;font-style:normal"><tspan>2</tspan></text>
<text x="91.60" y="452.25" text-anchor="end" fill="#000" style="font-family:'TeX Gyre Heros', 'Liberation Sans', Arial, sans-serif;font-size:34.00px;font-weight:normal;font-style:normal"><tspan>3</tspan></text>
<text x="91.60" y="374.50" text-anchor="end" fill="#000" style="font-family:'TeX Gyre Heros', 'Liberation Sans', Arial, sans-serif;font-size:34.00px;font-weight:normal;font-style:normal"><tspan>4</tspan></text>
<text x="91.60" y="296.75" text-anchor="end" fill="#000" style="font-family:'TeX Gyre Heros', 'Liberation Sans', Arial, sans-serif;font-size:34.00px;font-weight:normal;font-style:normal"><tspan>5</tspan></text>
<text x="91.60" y="219.00" text-anchor="end" fill="#000" style="font-family:'TeX Gyre Heros', 'Liberation Sans', Arial, sans-serif;font-size:34.00px;font-weight:normal;font-style:normal"><tspan>6</tspan></text>
<text x="91.60" y="141.25" text-anchor="end" fill="#000" style="font-family:'TeX Gyre Heros', 'Liberation Sans', Arial, sans-serif;font-size:34.00px;font-weight:normal;font-style:normal"><tspan>7</tspan></text>
<text x="91.60" y="63.50" text-anchor="end" fill="#000" style="font-family:'TeX Gyre Heros', 'Liberation Sans', Arial, sans-serif;font-size:34.00px;font-weight:normal;font-style:normal"><tspan>8</tspan></text>
<text x="741.50" y="687.60" text-anchor="end" fill="#000" style="font-family:'TeX Gyre Heros', 'Liberation Sans', Arial, sans-serif;font-size:34.00px;font-weight:normal;font-style:normal"><tspan>0.0</tspan></text>
<text x="741.50" y="563.20" text-anchor="end" fill="#000" style="font-family:'TeX Gyre Heros', 'Liberation Sans', Arial, sans-serif;font-size:34.00px;font-weight:normal;font-style:normal"><tspan>0.5</tspan></text>
<text x="741.50" y="438.80" text-anchor="end" fill="#000" style="font-family:'TeX Gyre Heros', 'Liberation Sans', Arial, sans-serif;font-size:34.00px;font-weight:normal;font-style:normal"><tspan>1.0</tspan></text>
<text x="741.50" y="314.40" text-anchor="end" fill="#000" style="font-family:'TeX Gyre Heros', 'Liberation Sans', Arial, sans-serif;font-size:34.00px;font-weight:normal;font-style:normal"><tspan>1.5</tspan></text>
<text x="741.50" y="190.00" text-anchor="end" fill="#000" style="font-family:'TeX Gyre Heros', 'Liberation Sans', Arial, sans-serif;font-size:34.00px;font-weight:normal;font-style:normal"><tspan>2.0</tspan></text>
<text x="741.50" y="65.60" text-anchor="end" fill="#000" style="font-family:'TeX Gyre Heros', 'Liberation Sans', Arial, sans-serif;font-size:34.00px;font-weight:normal;font-style:normal"><tspan>2.5</tspan></text>
<text x="91.60" y="1474.80" text-anchor="end" fill="#000" style="font-family:'TeX Gyre Heros', 'Liberation Sans', Arial, sans-serif;font-size:34.00px;font-weight:normal;font-style:normal"><tspan>0</tspan></text>
<text x="91.60" y="1371.05" text-anchor="end" fill="#000" style="font-family:'TeX Gyre Heros', 'Liberation Sans', Arial, sans-serif;font-size:34.00px;font-weight:normal;font-style:normal"><tspan>1</tspan></text>
<text x="91.60" y="1267.30" text-anchor="end" fill="#000" style="font-family:'TeX Gyre Heros', 'Liberation Sans', Arial, sans-serif;font-size:34.00px;font-weight:normal;font-style:normal"><tspan>2</tspan></text>
<text x="91.60" y="1163.55" text-anchor="end" fill="#000" style="font-family:'TeX Gyre Heros', 'Liberation Sans', Arial, sans-serif;font-size:34.00px;font-weight:normal;font-style:normal"><tspan>3</tspan></text>
<text x="91.60" y="1059.80" text-anchor="end" fill="#000" style="font-family:'TeX Gyre Heros', 'Liberation Sans', Arial, sans-serif;font-size:34.00px;font-weight:normal;font-style:normal"><tspan>4</tspan></text>
<text x="91.60" y="956.05" text-anchor="end" fill="#000" style="font-family:'TeX Gyre Heros', 'Liberation Sans', Arial, sans-serif;font-size:34.00px;font-weight:normal;font-style:normal"><tspan>5</tspan></text>
<text x="91.60" y="852.30" text-anchor="end" fill="#000" style="font-family:'TeX Gyre Heros', 'Liberation Sans', Arial, sans-serif;font-size:34.00px;font-weight:normal;font-style:normal"><tspan>6</tspan></text>
<text x="742.60" y="1471.90" text-anchor="end" fill="#000" style="font-family:'TeX Gyre Heros', 'Liberation Sans', Arial, sans-serif;font-size:34.00px;font-weight:normal;font-style:normal"><tspan>0</tspan></text>
<text x="742.60" y="1394.09" text-anchor="end" fill="#000" style="font-family:'TeX Gyre Heros', 'Liberation Sans', Arial, sans-serif;font-size:34.00px;font-weight:normal;font-style:normal"><tspan>1</tspan></text>
<text x="742.60" y="1316.28" text-anchor="end" fill="#000" style="font-family:'TeX Gyre Heros', 'Liberation Sans', Arial, sans-serif;font-size:34.00px;font-weight:normal;font-style:normal"><tspan>2</tspan></text>
<text x="742.60" y="1238.46" text-anchor="end" fill="#000" style="font-family:'TeX Gyre Heros', 'Liberation Sans', Arial, sans-serif;font-size:34.00px;font-weight:normal;font-style:normal"><tspan>3</tspan></text>
<text x="742.60" y="1160.65" text-anchor="end" fill="#000" style="font-family:'TeX Gyre Heros', 'Liberation Sans', Arial, sans-serif;font-size:34.00px;font-weight:normal;font-style:normal"><tspan>4</tspan></text>
<text x="742.60" y="1082.84" text-anchor="end" fill="#000" style="font-family:'TeX Gyre Heros', 'Liberation Sans', Arial, sans-serif;font-size:34.00px;font-weight:normal;font-style:normal"><tspan>5</tspan></text>
<text x="742.60" y="1005.02" text-anchor="end" fill="#000" style="font-family:'TeX Gyre Heros', 'Liberation Sans', Arial, sans-serif;font-size:34.00px;font-weight:normal;font-style:normal"><tspan>6</tspan></text>
<text x="742.60" y="927.21" text-anchor="end" fill="#000" style="font-family:'TeX Gyre Heros', 'Liberation Sans', Arial, sans-serif;font-size:34.00px;font-weight:normal;font-style:normal"><tspan>7</tspan></text>
<text x="742.60" y="849.40" text-anchor="end" fill="#000" style="font-family:'TeX Gyre Heros', 'Liberation Sans', Arial, sans-serif;font-size:34.00px;font-weight:normal;font-style:normal"><tspan>8</tspan></text>
<text x="1466.20" y="689.00" text-anchor="end" fill="#000" style="font-family:'TeX Gyre Heros', 'Liberation Sans', Arial, sans-serif;font-size:34.00px;font-weight:normal;font-style:normal"><tspan>0</tspan></text>
<text x="1466.20" y="542.65" text-anchor="end" fill="#000" style="font-family:'TeX Gyre Heros', 'Liberation Sans', Arial, sans-serif;font-size:34.00px;font-weight:normal;font-style:normal"><tspan>40</tspan></text>
<text x="1466.20" y="396.29" text-anchor="end" fill="#000" style="font-family:'TeX Gyre Heros', 'Liberation Sans', Arial, sans-serif;font-size:34.00px;font-weight:normal;font-style:normal"><tspan>80</tspan></text>
<text x="1466.20" y="249.94" text-anchor="end" fill="#000" style="font-family:'TeX Gyre Heros', 'Liberation Sans', Arial, sans-serif;font-size:34.00px;font-weight:normal;font-style:normal"><tspan>120</tspan></text>
<text x="1466.20" y="103.59" text-anchor="end" fill="#000" style="font-family:'TeX Gyre Heros', 'Liberation Sans', Arial, sans-serif;font-size:34.00px;font-weight:normal;font-style:normal"><tspan>160</tspan></text>
<text x="1466.50" y="1474.30" text-anchor="end" fill="#000" style="font-family:'TeX Gyre Heros', 'Liberation Sans', Arial, sans-serif;font-size:34.00px;font-weight:normal;font-style:normal"><tspan>0</tspan></text>
<text x="1466.50" y="1296.44" text-anchor="end" fill="#000" style="font-family:'TeX Gyre Heros', 'Liberation Sans', Arial, sans-serif;font-size:34.00px;font-weight:normal;font-style:normal"><tspan>40</tspan></text>
<text x="1466.50" y="1118.59" text-anchor="end" fill="#000" style="font-family:'TeX Gyre Heros', 'Liberation Sans', Arial, sans-serif;font-size:34.00px;font-weight:normal;font-style:normal"><tspan>80</tspan></text>
<text x="1466.50" y="940.73" text-anchor="end" fill="#000" style="font-family:'TeX Gyre Heros', 'Liberation Sans', Arial, sans-serif;font-size:34.00px;font-weight:normal;font-style:normal"><tspan>120</tspan></text>
<text x="164.30" y="234.90" text-anchor="middle" fill="#000" style="font-family:'Liberation Sans', Arial, Helvetica, sans-serif;font-size:29.00px;font-weight:normal;font-style:normal"><tspan>a</tspan></text>
<text x="274.20" y="625.55" text-anchor="middle" fill="#000" style="font-family:'Liberation Sans', Arial, Helvetica, sans-serif;font-size:29.00px;font-weight:normal;font-style:normal"><tspan>c</tspan></text>
<text x="388.60" y="387.95" text-anchor="middle" fill="#000" style="font-family:'Liberation Sans', Arial, Helvetica, sans-serif;font-size:29.00px;font-weight:normal;font-style:normal"><tspan>b</tspan></text>
<text x="507.00" y="552.70" text-anchor="middle" fill="#000" style="font-family:'Liberation Sans', Arial, Helvetica, sans-serif;font-size:29.00px;font-weight:normal;font-style:normal"><tspan>c</tspan></text>
<text x="620.95" y="524.25" text-anchor="middle" fill="#000" style="font-family:'Liberation Sans', Arial, Helvetica, sans-serif;font-size:29.00px;font-weight:normal;font-style:normal"><tspan>c</tspan></text>
<text x="811.15" y="242.45" text-anchor="middle" fill="#000" style="font-family:'Liberation Sans', Arial, Helvetica, sans-serif;font-size:29.00px;font-weight:normal;font-style:normal"><tspan>a</tspan></text>
<text x="927.90" y="638.45" text-anchor="middle" fill="#000" style="font-family:'Liberation Sans', Arial, Helvetica, sans-serif;font-size:29.00px;font-weight:normal;font-style:normal"><tspan>c</tspan></text>
<text x="1044.20" y="242.45" text-anchor="middle" fill="#000" style="font-family:'Liberation Sans', Arial, Helvetica, sans-serif;font-size:29.00px;font-weight:normal;font-style:normal"><tspan>a</tspan></text>
<text x="1157.90" y="638.45" text-anchor="middle" fill="#000" style="font-family:'Liberation Sans', Arial, Helvetica, sans-serif;font-size:29.00px;font-weight:normal;font-style:normal"><tspan>c</tspan></text>
<text x="1270.80" y="501.85" text-anchor="middle" fill="#000" style="font-family:'Liberation Sans', Arial, Helvetica, sans-serif;font-size:29.00px;font-weight:normal;font-style:normal"><tspan>b</tspan></text>
<text x="159.20" y="1051.40" text-anchor="middle" fill="#000" style="font-family:'Liberation Sans', Arial, Helvetica, sans-serif;font-size:29.00px;font-weight:normal;font-style:normal"><tspan>a</tspan></text>
<text x="277.50" y="1423.65" text-anchor="middle" fill="#000" style="font-family:'Liberation Sans', Arial, Helvetica, sans-serif;font-size:29.00px;font-weight:normal;font-style:normal"><tspan>d</tspan></text>
<text x="392.30" y="1028.60" text-anchor="middle" fill="#000" style="font-family:'Liberation Sans', Arial, Helvetica, sans-serif;font-size:29.00px;font-weight:normal;font-style:normal"><tspan>a</tspan></text>
<text x="506.00" y="1315.75" text-anchor="middle" fill="#000" style="font-family:'Liberation Sans', Arial, Helvetica, sans-serif;font-size:29.00px;font-weight:normal;font-style:normal"><tspan>c</tspan></text>
<text x="621.70" y="1288.95" text-anchor="middle" fill="#000" style="font-family:'Liberation Sans', Arial, Helvetica, sans-serif;font-size:29.00px;font-weight:normal;font-style:normal"><tspan>b</tspan></text>
<text x="831.65" y="1105.10" text-anchor="middle" fill="#000" style="font-family:'Liberation Sans', Arial, Helvetica, sans-serif;font-size:29.00px;font-weight:normal;font-style:normal"><tspan>b</tspan></text>
<text x="970.60" y="1076.85" text-anchor="middle" fill="#000" style="font-family:'Liberation Sans', Arial, Helvetica, sans-serif;font-size:29.00px;font-weight:normal;font-style:normal"><tspan>b</tspan></text>
<text x="1113.15" y="1012.70" text-anchor="middle" fill="#000" style="font-family:'Liberation Sans', Arial, Helvetica, sans-serif;font-size:29.00px;font-weight:normal;font-style:normal"><tspan>a</tspan></text>
<text x="1258.90" y="1226.45" text-anchor="middle" fill="#000" style="font-family:'Liberation Sans', Arial, Helvetica, sans-serif;font-size:29.00px;font-weight:normal;font-style:normal"><tspan>c</tspan></text>
</svg></body></html>
